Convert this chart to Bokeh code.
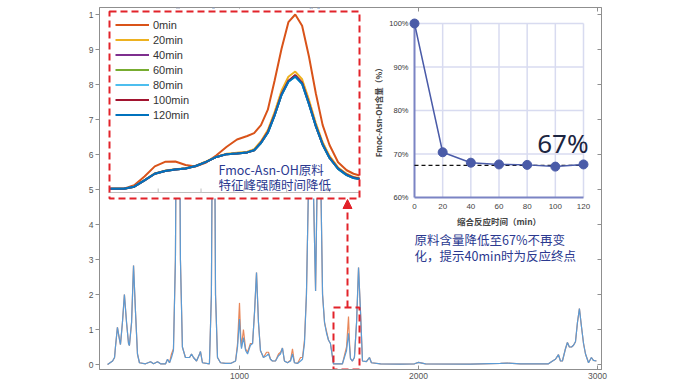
import math
from bokeh.plotting import figure
from bokeh.models import (Range1d, FixedTicker, LinearAxis, Legend, LegendItem,
                          Arrow, NormalHead)
from bokeh.core.properties import value
from bokeh.embed import file_html
from bokeh.resources import INLINE

# ---------------- main spectrum (wavenumber, intensity) ----------------
wn_main = [263, 291, 302, 307, 318, 330, 335, 346, 357, 369,
           380, 385, 397, 408, 419, 430, 441, 475, 503, 520,
           542, 559, 587, 598, 609, 620, 631, 642, 654, 659,
           670, 681, 698, 721, 732, 743, 760, 777, 782, 793,
           832, 843, 855, 866, 877, 894, 922, 950, 978, 989,
           1000, 1006, 1011, 1022, 1034, 1045, 1061, 1073, 1084, 1095,
           1106, 1117, 1134, 1151, 1162, 1173, 1184, 1201, 1218, 1229,
           1240, 1251, 1268, 1285, 1296, 1307, 1324, 1341, 1352, 1363,
           1374, 1385, 1402, 1413, 1425, 1436, 1441, 1452, 1464, 1475,
           1486, 1497, 1508, 1514, 1525, 1575, 1586, 1598, 1609, 1615,
           1620, 1631, 1642, 1654, 1665, 1676, 1687, 1709, 1726, 1737,
           1788, 1899, 1978, 2000, 2039, 2290, 2458, 2497, 2570, 2726,
           2749, 2765, 2782, 2793, 2804, 2821, 2832, 2843, 2855, 2866,
           2877, 2888, 2899, 2910, 2922, 2933, 2950, 2966, 2977, 2994]
main_120min = [0, 0.01, 0.02, 0.05, 0.106, 0.07, 0.057, 0.12, 0.2, 0.12,
               0.06, 0.054, 0.12, 0.283, 0.15, 0.03, 0.005, 0.002, 0.008, 0.002,
               0.008, 0.002, 0.002, 0.015, 0.005, 0.02, 0.04, 0.3, 1.3, 1.3,
               0.3, 0.05, 0.02, 0.02, 0.03, 0.02, 0.01, 0.03, 0.037, 0.005,
               0.002, 0.2, 1.3, 0.2, 0.02, 0.005, 0.003, 0.003, 0.01, 0.05,
               0.13, 0.07, 0.045, 0.077, 0.04, 0.03, 0.055, 0.06, 0.15, 0.263,
               0.12, 0.04, 0.02, 0.025, 0.03, 0.015, 0.01, 0.01, 0.025, 0.03,
               0.047, 0.01, 0.005, 0.01, 0.03, 0.005, 0.003, 0.01, 0.015, 0.06,
               0.2, 0.5, 1.3, 0.5, 0.21, 0.6, 1.3, 0.6, 0.2, 0.12,
               0.09, 0.07, 0.06, 0.04, 0.002, 0.002, 0.02, 0.04, 0.089, 0.05,
               0.017, 0.01, 0.02, 0.12, 0.277, 0.15, 0.01, 0.008, 0.02, 0.005,
               0.002, 0.001, 0.002, 0.006, 0.002, 0.001, 0.003, 0.004, 0.002, 0.002,
               0.01, 0.015, 0.028, 0.01, 0.01, 0.045, 0.063, 0.05, 0.05, 0.055,
               0.065, 0.12, 0.16, 0.11, 0.06, 0.03, 0.005, 0.02, 0.012, 0.01]
main_0min = [0, 0.01, 0.02, 0.05, 0.106, 0.07, 0.057, 0.12, 0.2, 0.12,
             0.06, 0.054, 0.12, 0.283, 0.15, 0.03, 0.005, 0.002, 0.008, 0.002,
             0.008, 0.002, 0.002, 0.015, 0.005, 0.03, 0.045, 0.3, 1.3, 1.3,
             0.3, 0.05, 0.02, 0.02, 0.03, 0.02, 0.01, 0.03, 0.037, 0.005,
             0.002, 0.2, 1.3, 0.2, 0.02, 0.005, 0.003, 0.003, 0.01, 0.06,
             0.176, 0.09, 0.05, 0.10, 0.045, 0.035, 0.06, 0.06, 0.15, 0.263,
             0.12, 0.04, 0.02, 0.035, 0.035, 0.015, 0.01, 0.01, 0.03, 0.035,
             0.047, 0.01, 0.005, 0.012, 0.045, 0.005, 0.003, 0.02, 0.02, 0.07,
             0.2, 0.5, 1.3, 0.5, 0.21, 0.6, 1.3, 0.6, 0.2, 0.12,
             0.095, 0.07, 0.06, 0.04, 0.002, 0.002, 0.025, 0.05, 0.137, 0.06,
             0.017, 0.01, 0.02, 0.12, 0.277, 0.15, 0.01, 0.008, 0.02, 0.005,
             0.002, 0.001, 0.002, 0.006, 0.002, 0.001, 0.003, 0.004, 0.002, 0.002,
             0.01, 0.015, 0.028, 0.01, 0.01, 0.045, 0.063, 0.05, 0.05, 0.055,
             0.065, 0.12, 0.16, 0.11, 0.06, 0.03, 0.005, 0.02, 0.012, 0.01]
main_x_ticks = [1000, 2000, 3000]
main_y_ticks = [0, 0.1, 0.2, 0.3, 0.4, 0.5, 0.6, 0.7, 0.8, 0.9, 1.0]
main_y_labels = {0: "0", 0.1: "1", 0.2: "2", 0.3: "3", 0.4: "4", 0.5: "5",
                 0.6: "6", 0.7: "7", 0.8: "8", 0.9: "9", 1.0: "1"}

# ---------------- zoomed inset: characteristic peak ----------------
inset_x = [1522, 1530, 1536, 1542, 1548, 1554, 1560, 1566, 1572, 1578,
           1584, 1590, 1596, 1602, 1606, 1610, 1614, 1618, 1622, 1626,
           1630, 1634, 1638, 1642, 1646, 1650, 1655, 1660, 1664, 1667.5]
inset_0min = [0.502, 0.502, 0.512, 0.537, 0.566, 0.579, 0.580, 0.570, 0.566, 0.577,
              0.598, 0.622, 0.643, 0.653, 0.661, 0.684, 0.728, 0.812, 0.902, 0.978,
              1.000, 0.968, 0.880, 0.775, 0.684, 0.627, 0.578, 0.555, 0.545, 0.540]
inset_20min = [0.502, 0.502, 0.509, 0.527, 0.546, 0.554, 0.558, 0.561, 0.568, 0.580,
               0.594, 0.602, 0.605, 0.608, 0.615, 0.638, 0.670, 0.722, 0.782, 0.822,
               0.837, 0.815, 0.756, 0.690, 0.635, 0.596, 0.563, 0.545, 0.536, 0.533]
inset_40min = [0.502, 0.502, 0.508, 0.526, 0.545, 0.553, 0.557, 0.560, 0.567, 0.579,
               0.593, 0.601, 0.603, 0.606, 0.612, 0.634, 0.664, 0.714, 0.772, 0.810,
               0.826, 0.804, 0.746, 0.682, 0.629, 0.591, 0.560, 0.542, 0.534, 0.531]
inset_60min = [0.502, 0.502, 0.508, 0.526, 0.545, 0.553, 0.557, 0.560, 0.567, 0.579,
               0.593, 0.601, 0.603, 0.606, 0.612, 0.633, 0.663, 0.713, 0.771, 0.809,
               0.824, 0.803, 0.745, 0.681, 0.628, 0.590, 0.559, 0.541, 0.533, 0.530]
inset_80min = [0.502, 0.502, 0.508, 0.526, 0.545, 0.553, 0.557, 0.560, 0.567, 0.579,
               0.593, 0.601, 0.603, 0.606, 0.612, 0.633, 0.662, 0.712, 0.770, 0.808,
               0.822, 0.801, 0.744, 0.681, 0.628, 0.590, 0.559, 0.541, 0.533, 0.530]
inset_100min = [0.502, 0.502, 0.508, 0.526, 0.545, 0.553, 0.557, 0.560, 0.567, 0.579,
                0.593, 0.601, 0.603, 0.606, 0.612, 0.634, 0.664, 0.714, 0.772, 0.810,
                0.827, 0.805, 0.746, 0.682, 0.629, 0.591, 0.560, 0.542, 0.534, 0.531]
inset_120min = [0.502, 0.502, 0.508, 0.526, 0.545, 0.553, 0.557, 0.560, 0.567, 0.579,
                0.593, 0.601, 0.603, 0.606, 0.612, 0.633, 0.662, 0.712, 0.770, 0.808,
                0.823, 0.802, 0.744, 0.681, 0.628, 0.590, 0.559, 0.541, 0.533, 0.530]
inset_labels = ["0min", "20min", "40min", "60min", "80min", "100min", "120min"]
inset_colors = ["#D95319", "#EDB120", "#7E2F8E", "#77AC30", "#4DBEEE", "#A2142F", "#0072BD"]
inset_ticks = [1550, 1575, 1600, 1625, 1650]

# ---------------- content vs time inset ----------------
c2_time = [0, 20, 40, 60, 80, 100, 120]
c2_content = [100, 70.4, 68.0, 67.6, 67.5, 67.1, 67.6]
c2_plateau = 67.4
c2_xticks = [0, 20, 40, 60, 80, 100, 120]
c2_yticks = [60, 70, 80, 90, 100]

RED = "#E2232A"
NAVY = "#2B3990"
CJK = value("Noto Sans CJK SC")
LAT = value("Liberation Sans")


def X(px):  # reference pixel column -> main data x (layout helper)
    return 1000 + (px - 239) * 1000 / 179


def Y(py):  # reference pixel row -> main data y (layout helper)
    return (364 - py) / 350


p = figure(width=692, height=383, output_backend="svg", toolbar_location=None,
           x_range=Range1d(X(99), X(601)), y_range=Range1d(Y(369), Y(7)),
           min_border_left=99, min_border_right=91, min_border_top=7, min_border_bottom=14)
p.xgrid.visible = False
p.ygrid.visible = False
p.outline_line_color = "#8f8f8f"
GRAY = "#8f8f8f"

xa = p.xaxis[0]
xa.ticker = FixedTicker(ticks=main_x_ticks)
xa.major_tick_in = 4
xa.major_tick_out = 0
xa.minor_tick_line_color = None
xa.axis_line_color = GRAY
xa.major_tick_line_color = GRAY
xa.major_label_text_font = "Liberation Sans"
xa.major_label_text_font_size = "8.5px"
xa.major_label_text_color = "#555555"
xa.major_label_standoff = 3

ya = p.yaxis[0]
ya.ticker = FixedTicker(ticks=main_y_ticks)
ya.major_label_overrides = main_y_labels
ya.major_tick_in = 0
ya.major_tick_out = 4
ya.minor_tick_line_color = None
ya.axis_line_color = GRAY
ya.major_tick_line_color = GRAY
ya.major_label_text_font = "Liberation Sans"
ya.major_label_text_font_size = "8.5px"
ya.major_label_text_color = "#555555"
ya.major_label_standoff = 2

ra = LinearAxis(ticker=FixedTicker(ticks=main_y_ticks), major_tick_in=4, major_tick_out=0,
                minor_tick_line_color=None, axis_line_color=GRAY, major_tick_line_color=GRAY,
                major_label_text_font_size="0px", major_label_text_color=None)
p.add_layout(ra, "right")

# top mirror ticks
p.segment(x0=main_x_ticks, x1=main_x_ticks, y0=Y(7), y1=Y(11), line_color=GRAY, line_width=1)

# main spectra
p.line(wn_main, main_0min, line_color="#E8875A", line_width=1.2)
p.line(wn_main, main_120min, line_color="#5B9BD5", line_width=1.2)

# white panel for the zoom inset
p.quad(left=X(108), right=X(360), bottom=Y(198), top=Y(8), fill_color="white", line_color=None)
sub1 = p.subplot(x_source=Range1d(1521, 1667.5), y_source=Range1d(0, 1),
                 x_target=Range1d(X(108), X(359)), y_target=Range1d(0, 1))
p.segment(x0=X(108), x1=X(359), y0=Y(192), y1=Y(192), line_color="#bdbdbd", line_width=1)
sub1.segment(x0=inset_ticks, x1=inset_ticks, y0=Y(192), y1=Y(188), line_color="#bdbdbd", line_width=1)

inset_series = [inset_0min, inset_20min, inset_40min, inset_60min, inset_80min, inset_100min, inset_120min]
inset_rs = []
for ys, c in zip(inset_series, inset_colors):
    inset_rs.append(sub1.line(inset_x, ys, line_color=c, line_width=2))

legend = Legend(items=[LegendItem(label=l, renderers=[r]) for l, r in zip(inset_labels, inset_rs)],
                location=(16, 247), background_fill_alpha=0, border_line_color=None,
                label_text_font="Liberation Sans", label_text_font_size="11px",
                label_text_color="#333333", glyph_width=34, glyph_height=15, label_height=15,
                spacing=0, padding=2, margin=0, label_standoff=4)
p.add_layout(legend)

p.text(x=[X(218), X(218)], y=[Y(169), Y(184)], text=["Fmoc-Asn-OH原料", "特征峰强随时间降低"],
       text_font=CJK, text_font_size="12.5px", text_color=NAVY,
       text_align="left", text_baseline="middle")

# ---------------- content vs time chart ----------------
sub2 = p.subplot(x_source=Range1d(0, 120), y_source=Range1d(60, 100),
                 x_target=Range1d(X(414), X(583)), y_target=Range1d(Y(197), Y(23)))
GRID2 = "#D8DBF0"
sub2.segment(x0=c2_xticks[1:], x1=c2_xticks[1:], y0=c2_yticks[0], y1=c2_yticks[-1],
             line_color=GRID2, line_width=1.5)
sub2.segment(x0=c2_xticks[0], x1=c2_xticks[-1], y0=c2_yticks[1:], y1=c2_yticks[1:],
             line_color=GRID2, line_width=1.5)
SPINE = "#7B84C4"
sub2.segment(x0=[c2_xticks[0], c2_xticks[0]], y0=[c2_yticks[0], c2_yticks[0]],
             x1=[c2_xticks[0], c2_xticks[-1]], y1=[c2_yticks[-1], c2_yticks[0]],
             line_color=SPINE, line_width=2)
sub2.segment(x0=c2_xticks[0], x1=c2_xticks[-1], y0=c2_plateau, y1=c2_plateau,
             line_color="#111111", line_width=1.3, line_dash="4 3")
sub2.line(c2_time, c2_content, line_color="#4A5BA8", line_width=1.5)
sub2.scatter(c2_time, c2_content, size=9, fill_color="#4A5BA8", line_color="#4A5BA8")
sub2.text(x=c2_xticks, y=c2_yticks[0], text=[str(t) for t in c2_xticks], y_offset=9,
          text_font=LAT, text_font_size="8px", text_color="#444444",
          text_align="center", text_baseline="middle")
sub2.text(x=c2_xticks[0], y=c2_yticks, text=[f"{t}%" for t in c2_yticks], x_offset=-6,
          text_font=LAT, text_font_size="7.5px", text_color="#333333",
          text_align="right", text_baseline="middle")
sub2.text(x=[60], y=[c2_yticks[0]], y_offset=23, text=["缩合反应时间（min）"],
          text_font=CJK, text_font_size="8.5px", text_font_style="bold", text_color="#444444",
          text_align="center", text_baseline="middle")
sub2.text(x=[c2_xticks[0]], y=[80], x_offset=-36, angle=math.pi / 2,
          text=["Fmoc-Asn-OH含量（%）"],
          text_font=CJK, text_font_size="8px", text_font_style="bold", text_color="#444444",
          text_align="center", text_baseline="middle")
sub2.text(x=[c2_xticks[-1]], y=[c2_plateau], x_offset=5, y_offset=-22,
          text=[f"{round(c2_plateau)}%"], text_font=value("Noto Sans"), text_font_size="26px",
          text_color="#1C2541", text_align="right", text_baseline="middle")

p.text(x=[X(414), X(414)], y=[Y(239), Y(255)],
       text=["原料含量降低至67%不再变", "化，提示40min时为反应终点"],
       text_font=CJK, text_font_size="12.5px", text_color=NAVY,
       text_align="left", text_baseline="middle")

# ---------------- red dashed highlight boxes and arrow ----------------
p.quad(left=X(109), right=X(359), bottom=Y(198), top=Y(11), fill_color=None,
       line_color=RED, line_width=2, line_dash="7 4")
p.quad(left=X(333), right=X(359), bottom=Y(369), top=Y(307), fill_color=None,
       line_color=RED, line_width=2, line_dash="7 4")
p.add_layout(Arrow(end=NormalHead(size=9, fill_color=RED, line_color=RED),
                   x_start=X(347), y_start=Y(307), x_end=X(347), y_end=Y(199),
                   line_color=RED, line_width=2, line_dash="7 4"))

open("out.html", "w").write(file_html(p, INLINE))
